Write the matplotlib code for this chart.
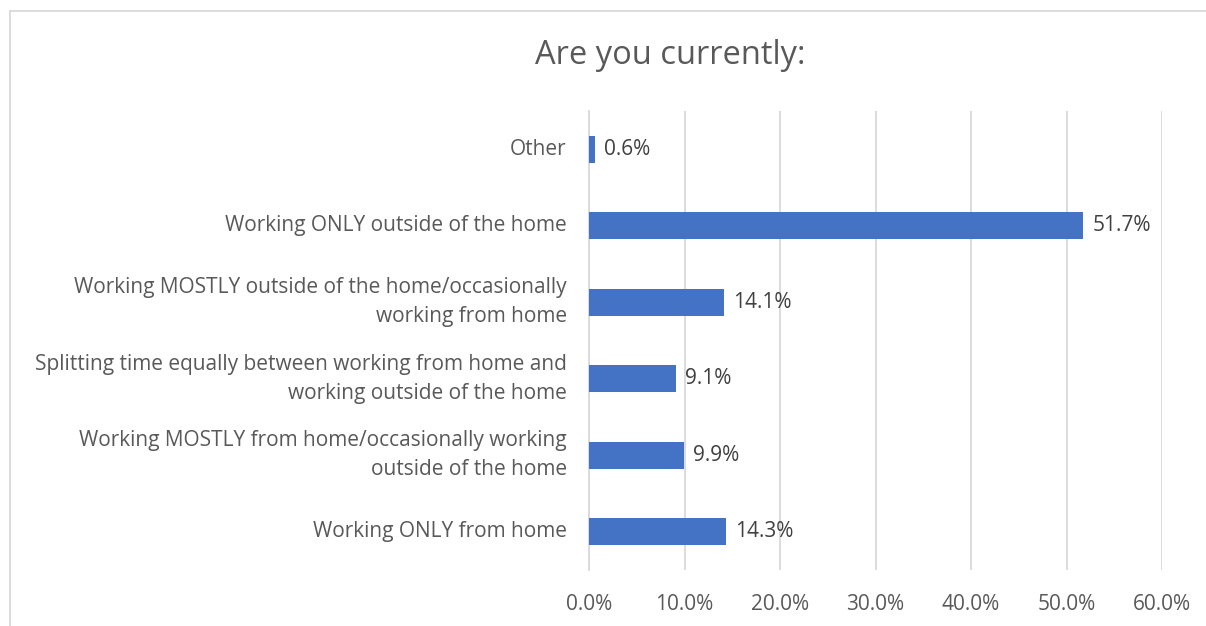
import matplotlib
matplotlib.use("Agg")
import matplotlib.pyplot as plt
from matplotlib.lines import Line2D
from matplotlib.ticker import FuncFormatter

categories = [
    "Working ONLY from home",
    "Working MOSTLY from home/occasionally working\noutside of the home",
    "Splitting time equally between working from home and\nworking outside of the home",
    "Working MOSTLY outside of the home/occasionally\nworking from home",
    "Working ONLY outside of the home",
    "Other",
]
values = [14.3, 9.9, 9.1, 14.1, 51.7, 0.6]
xticks = [0, 10, 20, 30, 40, 50, 60]
title = "Are you currently:"

plt.rcParams['font.family'] = ['Open Sans', 'DejaVu Sans']
W, H = 1206, 626
fig = plt.figure(figsize=(W / 100, H / 100), dpi=100)
ax = fig.add_axes([589 / W, 1 - 570 / H, (1162 - 589) / W, (570 - 111) / H])

txt = "#595959"
fs = 15
y = list(range(len(categories)))
ax.barh(y, values, height=0.35, color="#4472C4", zorder=3)
for yi, v in zip(y, values):
    ax.text(v + 1.0, yi, f"{v:.1f}%", va="center", ha="left", fontsize=fs, color="#404040")

ax.set_xlim(0, 60)
ax.set_ylim(-0.5, len(categories) - 0.5)
ax.set_xticks(xticks)
ax.xaxis.set_major_formatter(FuncFormatter(lambda v, p: f"{v:.1f}%"))
ax.set_yticks(y)
ax.set_yticklabels(categories, fontsize=fs, color=txt, linespacing=1.5)
ax.tick_params(axis="x", length=0, pad=17, labelsize=fs, labelcolor=txt)
ax.tick_params(axis="y", length=0, pad=16)
for lbl in ax.get_yticklabels():
    lbl.set_horizontalalignment("right")
    lbl.set_verticalalignment("center")
ax.grid(axis="x", color="#d9d9d9", linewidth=1.3, zorder=0)
for s in ["top", "right", "bottom"]:
    ax.spines[s].set_visible(False)
ax.spines["left"].set_color("#d9d9d9")
ax.spines["left"].set_linewidth(1.3)

fig.text(670 / W, 1 - 56 / H, title, ha="center", va="center", fontsize=23.5, color=txt)

# chart border
fig.add_artist(Line2D([10 / W, 1], [1 - 11 / H, 1 - 11 / H], color="#d9d9d9", linewidth=1.3))
fig.add_artist(Line2D([10 / W, 10 / W], [0, 1 - 11 / H], color="#d9d9d9", linewidth=1.3))

fig.savefig("out.png", dpi=100)
